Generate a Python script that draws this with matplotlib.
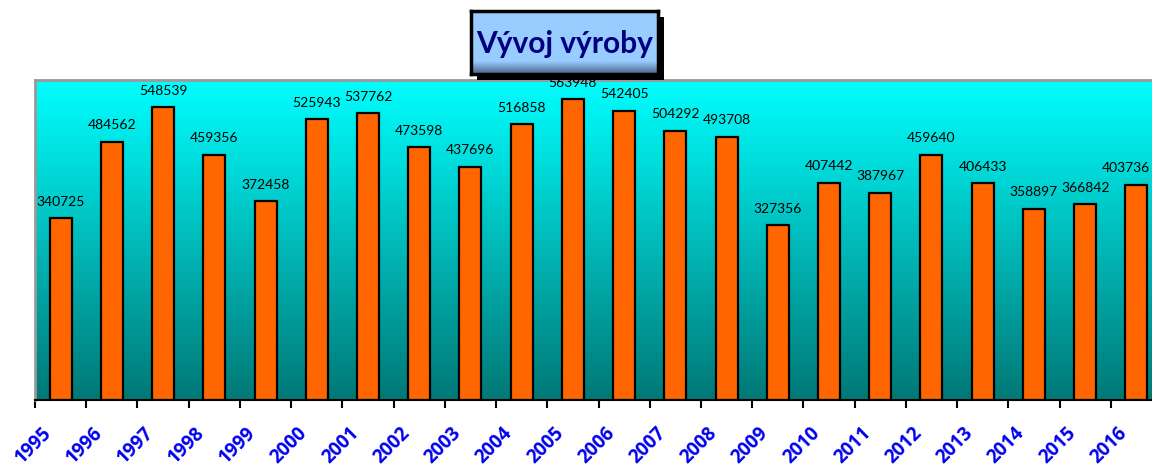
import matplotlib.pyplot as plt
import numpy as np
from matplotlib.patches import Rectangle

# Data
years = [str(y) for y in range(1995, 2017)]
production = [340725, 484562, 548539, 459356, 372458, 525943, 537762, 473598,
              437696, 516858, 563948, 542405, 504292, 493708, 327356, 407442,
              387967, 459640, 406433, 358897, 366842, 403736]
title = 'Vývoj výroby'

W, H = 1152, 471
fig = plt.figure(figsize=(W / 100, H / 100), dpi=100)
fig.patch.set_facecolor('white')

# plot area: left 35px, bottom 400px, top 80px, extends past right edge
ax = fig.add_axes([35 / W, (H - 400) / H, 1127 / W, 320 / H])
n = len(years)
x = np.arange(n)
ax.set_xlim(-0.5, n - 0.5)
ax.set_ylim(0, 600000)

# gradient background cyan -> teal
grad = np.linspace(0, 1, 256).reshape(-1, 1)
top = np.array([0, 255, 255]) / 255
bot = np.array([0, 120, 118]) / 255
img = top + (bot - top) * grad[:, :, None]
ax.imshow(img, extent=(-0.5, n - 0.5, 0, 600000), aspect='auto', zorder=0)

ax.bar(x, production, width=0.43, color='#ff6600', edgecolor='black',
       linewidth=1.6, zorder=2)
for xi, v in zip(x, production):
    if xi == n - 1:
        # last label would run past the figure edge, keep it inside
        t = ax.text(xi, v + 20000, str(v), ha='center', va='bottom', fontsize=10,
                    family='Lato', color='black', zorder=3)
        t.set_horizontalalignment('right')
        t.set_x(xi + 0.27)
    else:
        ax.text(xi, v + 20000, str(v), ha='center', va='bottom', fontsize=10,
                family='Lato', color='black', zorder=3, clip_on=False)

ax.set_yticks([])
ax.set_xticks(np.arange(n + 1) - 0.5, minor=False)
ax.set_xticklabels([])
ax.tick_params(axis='x', direction='out', length=6, width=1.5, color='black')
for i, y in enumerate(years):
    ax.text(i - 0.38, -44000, y, rotation=45, ha='right', va='top',
            rotation_mode='anchor', fontsize=13.5, fontweight='bold',
            family='Open Sans', color='#0000ee')

ax.spines['bottom'].set_color('black')
ax.spines['bottom'].set_linewidth(1.5)
for s in ['top', 'left']:
    ax.spines[s].set_color('#999999')
    ax.spines[s].set_linewidth(2)
ax.spines['right'].set_visible(False)

# title box with shadow and gradient
bx, by, bw, bh = 471 / W, (H - 74) / H, 187 / W, 63 / H
sh = Rectangle((bx + 6 / W, by - 6 / H), bw, bh, transform=fig.transFigure,
               facecolor='black', edgecolor='none', zorder=10)
fig.patches.append(sh)
tax = fig.add_axes([bx, by, bw, bh], zorder=11)
tgrad = np.linspace(0, 1, 100).reshape(-1, 1)
c1 = np.array([153, 204, 255]) / 255
c2 = np.array([75, 100, 135]) / 255
timg = np.where(tgrad[:, :, None] < 0.8, c1,
                c1 + (c2 - c1) * ((tgrad[:, :, None] - 0.8) / 0.2))
tax.imshow(timg, extent=(0, 1, 0, 1), aspect='auto')
tax.set_xlim(0, 1)
tax.set_ylim(0, 1)
tax.set_xticks([])
tax.set_yticks([])
for s in tax.spines.values():
    s.set_color('black')
    s.set_linewidth(2.5)
tax.text(0.5, 0.47, title, ha='center', va='center', fontsize=21.5,
         fontweight='bold', family='Lato', color='#000080')

fig.savefig('out.png', dpi=100)
